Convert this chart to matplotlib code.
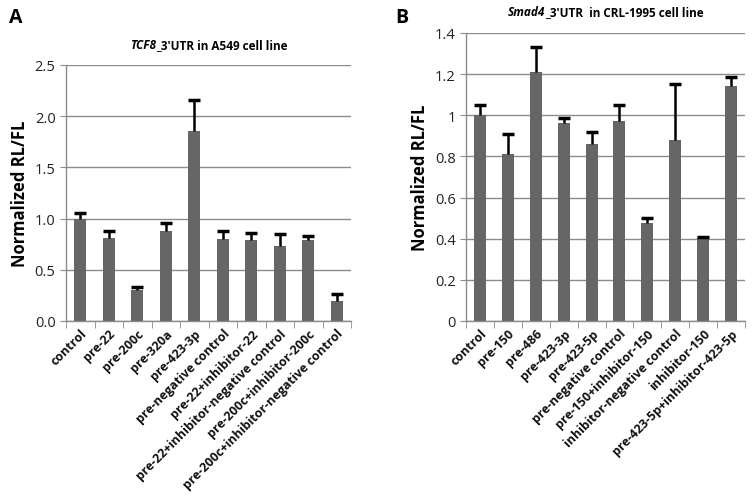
import matplotlib.pyplot as plt
from matplotlib.offsetbox import TextArea, HPacker, AnchoredOffsetbox
import numpy as np

plt.rcParams['font.family'] = ['Open Sans', 'DejaVu Sans']

# panel A data
labels_a = ["control", "pre-22", "pre-200c", "pre-320a", "pre-423-3p",
            "pre-negative control", "pre-22+inhibitor-22",
            "pre-22+inhibitor-negative control", "pre-200c+inhibitor-200c",
            "pre-200c+inhibitor-negative control"]
values_a = [1.00, 0.81, 0.30, 0.88, 1.86, 0.80, 0.79, 0.73, 0.79, 0.20]
errors_a = [0.05, 0.07, 0.03, 0.08, 0.30, 0.08, 0.07, 0.12, 0.04, 0.06]
ticks_a = [0.0, 0.5, 1.0, 1.5, 2.0, 2.5]
tick_labels_a = ["0.0", "0.5", "1.0", "1.5", "2.0", "2.5"]

# panel B data
labels_b = ["control", "pre-150", "pre-486", "pre-423-3p", "pre-423-5p",
            "pre-negative control", "pre-150+inhibitor-150",
            "inhibitor-negative control", "inhibitor-150",
            "pre-423-5p+inhibitor-423-5p"]
values_b = [1.00, 0.81, 1.21, 0.96, 0.86, 0.97, 0.475, 0.88, 0.403, 1.14]
errors_b = [0.05, 0.10, 0.12, 0.025, 0.06, 0.08, 0.027, 0.27, 0.005, 0.047]
ticks_b = [0, 0.2, 0.4, 0.6, 0.8, 1.0, 1.2, 1.4]
tick_labels_b = ["0", "0.2", "0.4", "0.6", "0.8", "1", "1.2", "1.4"]

bar_color = "#666666"
grid_color = "#8c8c8c"

fig = plt.figure(figsize=(7.52, 5.02), dpi=100)
ax_a = fig.add_axes([0.0878, 0.3586, 0.379, 0.51])
ax_b = fig.add_axes([0.6197, 0.3586, 0.371, 0.5737])


def draw_panel(ax, labels, values, errors, ticks, tick_labels, ymax, width):
    x = np.arange(len(labels))
    ax.bar(x, values, width=width, color=bar_color, zorder=2)
    # upper error bars only
    eb = ax.errorbar(x, values, yerr=[np.zeros(len(errors)), errors], fmt='none',
                     ecolor='black', elinewidth=1.8, capsize=4.5, capthick=2.5, zorder=3)
    eb[1][0].set_visible(False)
    ax.set_xlim(-0.5, len(labels) - 0.5)
    ax.set_ylim(0, ymax)
    ax.set_yticks(ticks)
    ax.set_yticklabels(tick_labels, fontsize=10.5, color="#222222")
    ax.yaxis.grid(True, color=grid_color, linewidth=1.0, zorder=0)
    ax.set_axisbelow(True)
    for s in ["top", "right"]:
        ax.spines[s].set_visible(False)
    for s in ["left", "bottom"]:
        ax.spines[s].set_color(grid_color)
        ax.spines[s].set_linewidth(1.0)
    # category labels at centers, tick marks between categories
    ax.set_xticks(x)
    ax.set_xticklabels(labels, rotation=45, ha='right', rotation_mode='anchor',
                       fontsize=9, fontweight='bold', color="#111111")
    ax.tick_params(axis='x', length=0, pad=4)
    ax.set_xticks(np.arange(-0.5, len(labels)), minor=True)
    ax.tick_params(axis='x', which='minor', length=5, color=grid_color, direction='out')
    ax.tick_params(axis='y', length=4, color=grid_color)
    ax.set_ylabel("Normalized RL/FL", fontsize=12, fontweight='bold')


draw_panel(ax_a, labels_a, values_a, errors_a, ticks_a, tick_labels_a, 2.5, 0.42)
draw_panel(ax_b, labels_b, values_b, errors_b, ticks_b, tick_labels_b, 1.4, 0.43)


def add_title(ax, gene, rest, y):
    box = HPacker(children=[
        TextArea(gene, textprops=dict(fontsize=8.5, fontweight='bold', style='italic')),
        TextArea(rest, textprops=dict(fontsize=8.5, fontweight='bold'))],
        align='baseline', pad=0, sep=0)
    anchored = AnchoredOffsetbox(loc='center', child=box, frameon=False,
                                 bbox_to_anchor=(0.5, y), bbox_transform=ax.transAxes,
                                 pad=0, borderpad=0)
    ax.add_artist(anchored)


add_title(ax_a, "TCF8", "_3'UTR in A549 cell line", 1.08)
add_title(ax_b, "Smad4", "_3'UTR  in CRL-1995 cell line", 1.075)

fig.text(0.012, 0.965, "A", fontsize=14, fontweight='bold', va='center')
fig.text(0.525, 0.965, "B", fontsize=14, fontweight='bold', va='center')

fig.savefig("out.png", dpi=100)
